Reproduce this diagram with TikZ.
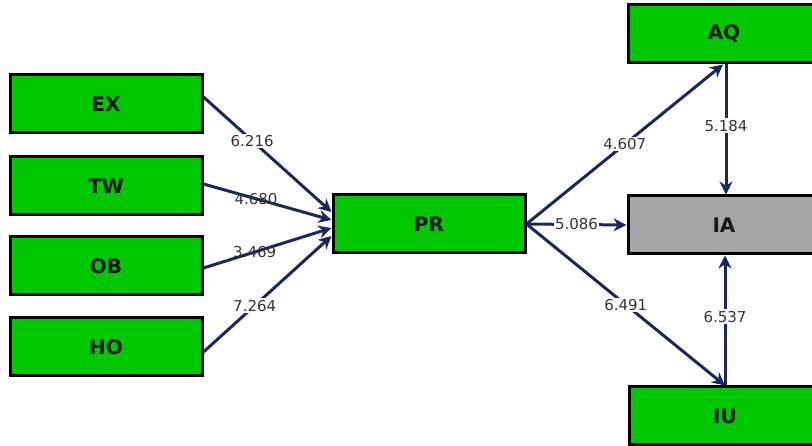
\documentclass[tikz,border=0pt]{standalone}
\usepackage{fontspec}
\setmainfont{DejaVu Sans}
\usetikzlibrary{arrows.meta}
\definecolor{boxgreen}{RGB}{0,200,0}
\definecolor{boxgray}{RGB}{166,166,166}
\definecolor{navy}{RGB}{24,40,98}
\begin{document}
\begin{tikzpicture}[x=1pt,y=-1pt,
  box/.style={draw=black,line width=3pt,fill=boxgreen,minimum width=192pt,minimum height=58pt,inner sep=0pt,font=\fontsize{20}{22}\selectfont\bfseries,text=black!90},
  arr/.style={draw=navy,line width=3pt,-{Stealth[length=13pt,width=13pt]}},
  lbl/.style={font=\fontsize{15}{17}\selectfont,text=black!80,inner sep=1.5pt},
  lblw/.style={lbl,fill=white}]
\useasboundingbox (0,0) rectangle (812,446);
\clip (0,0) rectangle (812,446);
\node[box] (EX) at (106,104) {EX};
\node[box] (TW) at (106,186) {TW};
\node[box] (OB) at (106,266) {OB};
\node[box] (HO) at (106,347) {HO};
\node[box] (PR) at (429,224) {PR};
\node[box] (AQ) at (724,34) {AQ};
\node[box,fill=boxgray] (IA) at (724,225) {IA};
\node[box] (IU) at (725,416) {IU};
\draw[arr] ([yshift=7pt]EX.east) -- node[lblw,pos=0.38] {6.216} ([yshift=12pt]PR.west);
\draw[arr] ([yshift=2pt]TW.east) -- node[lbl,pos=0.41] {4.680} ([yshift=4pt]PR.west);
\draw[arr] ([yshift=-2pt]OB.east) -- node[lbl,pos=0.4] {3.469} ([yshift=-4pt]PR.west);
\draw[arr] ([yshift=-5pt]HO.east) -- node[lblw,pos=0.4] {7.264} ([yshift=-12pt]PR.west);
\draw[arr] (PR.east) -- node[lblw,pos=0.5] {4.607} ([xshift=-1pt]AQ.south);
\draw[arr] (PR.east) -- node[lblw,pos=0.5] {5.086} (IA.west);
\draw[arr] (PR.east) -- node[lblw,pos=0.5] {6.491} (IU.north);
\draw[arr] ([xshift=2pt]AQ.south) -- node[lblw,pos=0.47] {5.184} ([xshift=2pt]IA.north);
\draw[arr] (IU.north) -- node[lblw,pos=0.53] {6.537} ([xshift=1pt]IA.south);
\end{tikzpicture}
\end{document}
